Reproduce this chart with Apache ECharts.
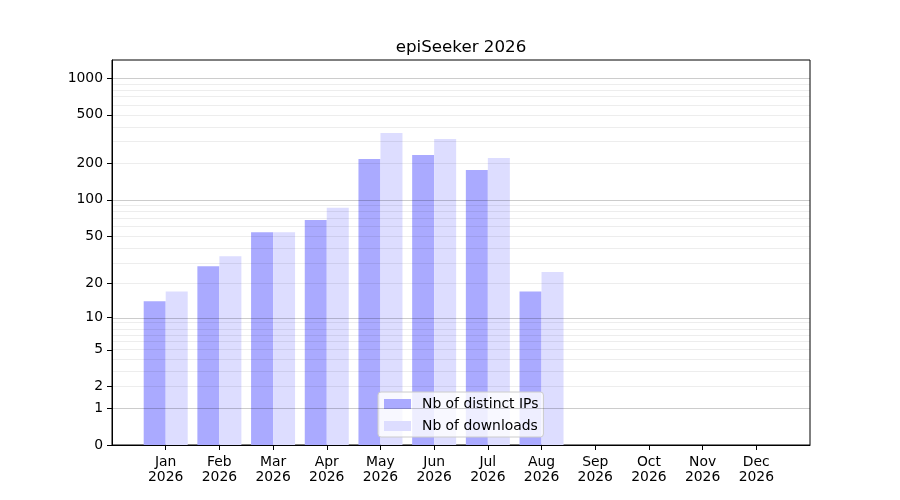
<!DOCTYPE html>
<html>
<head>
<meta charset="utf-8">
<script src="https://cdn.jsdelivr.net/npm/echarts@6/dist/echarts.min.js"></script>
<style>
  html, body { margin: 0; padding: 0; background: #fff; }
  #chart { width: 900px; height: 500px; }
</style>
</head>
<body>
<div id="chart"></div>
<script>
// data
const months = ["Jan", "Feb", "Mar", "Apr", "May", "Jun", "Jul", "Aug", "Sep", "Oct", "Nov", "Dec"];
const year = "2026";
const distinctIPs = [14, 28, 54, 68, 217, 234, 176, 17, 0, 0, 0, 0];
const downloads = [17, 34, 54, 86, 355, 317, 221, 25, 0, 0, 0, 0];
const yTickLabels = [0, 1, 2, 5, 10, 20, 50, 100, 200, 500, 1000];
const majorGrid = [1, 10, 100, 1000];
const minorGrid = [2, 3, 4, 5, 6, 7, 8, 9, 20, 30, 40, 50, 60, 70, 80, 90,
  200, 300, 400, 500, 600, 700, 800, 900];

// y axis is log10(1 + x)
const fwd = v => Math.log10(1 + v);
const back = t => Math.round(Math.pow(10, t) - 1);

// one empty slot on each side, like the original x range -1..12
const cats = [""].concat(months.map(m => m + "\n" + year), [""]);
const pad = arr => ["-"].concat(arr.map(v => (v > 0 ? fwd(v) : "-")), ["-"]);

const font = "DejaVu Sans";
const chart = echarts.init(document.getElementById("chart"));

const gridLines = majorGrid.map(v => ({ yAxis: fwd(v), lineStyle: { color: "rgba(0,0,0,0.2)" } }))
  .concat(minorGrid.map(v => ({ yAxis: fwd(v), lineStyle: { color: "rgba(0,0,0,0.07)" } })));

chart.setOption({
  animation: false,
  title: {
    text: "epiSeeker " + year,
    left: 456,
    textAlign: "center",
    top: 34,
    textStyle: { fontFamily: font, fontSize: 16.7, fontWeight: "normal", color: "#000" }
  },
  grid: {
    left: 112, right: 90, top: 60, bottom: 55,
    show: true, borderColor: "#000", borderWidth: 1, backgroundColor: "transparent"
  },
  legend: {
    data: ["Nb of distinct IPs", "Nb of downloads"],
    orient: "vertical",
    left: 378, top: 392,
    itemWidth: 27, itemHeight: 10, itemGap: 8,
    padding: [5, 5, 4, 6],
    backgroundColor: "rgba(255,255,255,0.8)",
    borderColor: "#cccccc", borderWidth: 1, borderRadius: 3,
    icon: "rect",
    textStyle: { fontFamily: font, fontSize: 13.9, color: "#000", padding: [0, 0, 0, 6] }
  },
  xAxis: {
    type: "category",
    data: cats,
    boundaryGap: false,
    axisLine: { lineStyle: { color: "#000" } },
    axisTick: { length: 5, lineStyle: { color: "#000" }, interval: (i, v) => v !== "" },
    axisLabel: {
      interval: 0, margin: 10, fontFamily: font, fontSize: 13.9, color: "#000", lineHeight: 15
    },
    splitLine: { show: false }
  },
  yAxis: {
    type: "value",
    min: 0,
    max: 3.148,
    axisLine: { show: true, lineStyle: { color: "#000" } },
    axisTick: { show: true, length: 5, lineStyle: { color: "#000" }, customValues: yTickLabels.map(fwd) },
    axisLabel: {
      customValues: yTickLabels.map(fwd),
      formatter: t => String(back(t)),
      margin: 9, fontFamily: font, fontSize: 13.9, color: "#000", padding: [5, 0, 0, 0]
    },
    splitLine: { show: false }
  },
  series: [
    {
      name: "Nb of distinct IPs",
      type: "bar",
      data: pad(distinctIPs),
      barWidth: 22,
      barGap: "0%",
      itemStyle: { color: "#aaaaff" }
    },
    {
      name: "Nb of downloads",
      type: "bar",
      data: pad(downloads),
      barWidth: 22,
      barGap: "0%",
      itemStyle: { color: "#ddddff" }
    },
    {
      name: "grid",
      type: "line",
      data: [],
      z: 5,
      silent: true,
      markLine: {
        silent: true,
        symbol: "none",
        label: { show: false },
        lineStyle: { type: "solid", width: 1 },
        data: gridLines
      }
    }
  ]
});
</script>
</body>
</html>
